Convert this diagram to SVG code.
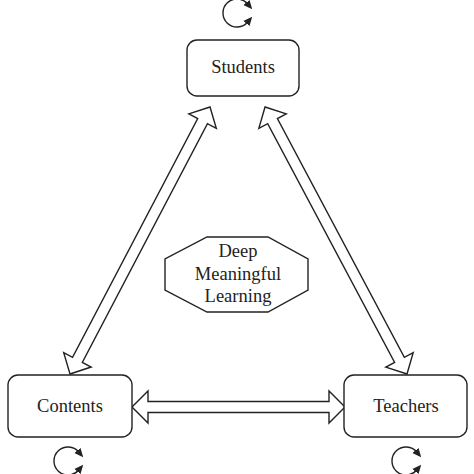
<svg xmlns="http://www.w3.org/2000/svg" width="474" height="474" viewBox="0 0 474 474">
<style>
.box{fill:#fff;stroke:#222;stroke-width:1.4}
.arr{fill:#fff;stroke:#222;stroke-width:1.4;stroke-linejoin:miter}
.loop{fill:none;stroke:#222;stroke-width:1.4}
.lbl{font-family:"Liberation Serif","Times New Roman",serif;font-size:18.5px;fill:#222;text-anchor:middle}
</style>
<defs>
<marker id="ah" markerUnits="userSpaceOnUse" markerWidth="10" markerHeight="10" viewBox="0 0 10 10" refX="2" refY="5" orient="auto-start-reverse">
<path d="M0,1 L9,5 L0,9 Z" fill="#222"/>
</marker>
</defs>
<rect width="474" height="474" fill="#fff"/>
<g id="connectors">
<path class="arr" transform="translate(132,407)" d="M0,0 L16,-16 L16,-5.5 L197,-5.5 L197,-16 L213,0 L197,16 L197,5.5 L16,5.5 L16,16 Z"/>
<path class="arr" transform="translate(70,374) rotate(-62.33)" d="M0,0 L16,-15.5 L16,-5.5 L285.5,-5.5 L285.5,-15.5 L301.5,0 L285.5,15.5 L285.5,5.5 L16,5.5 L16,15.5 Z"/>
<path class="arr" transform="translate(407,374) rotate(-118)" d="M0,0 L16,-15.5 L16,-5.5 L286.4,-5.5 L286.4,-15.5 L302.4,0 L286.4,15.5 L286.4,5.5 L16,5.5 L16,15.5 Z"/>
<path class="loop" d="M247.7,22 A14 14 0 1 1 247.7,4" marker-start="url(#ah)" marker-end="url(#ah)"/>
<path class="loop" d="M78.7,470 A14 14 0 1 1 78.7,452" marker-start="url(#ah)" marker-end="url(#ah)"/>
<path class="loop" d="M416.7,470 A14 14 0 1 1 416.7,452" marker-start="url(#ah)" marker-end="url(#ah)"/>
</g>
<g id="students">
<rect class="box" x="187" y="40" width="112" height="56" rx="10"/>
<text class="lbl" x="243" y="73">Students</text>
</g>
<g id="contents">
<rect class="box" x="8" y="375" width="124" height="62" rx="10"/>
<text class="lbl" x="70" y="412">Contents</text>
</g>
<g id="teachers">
<rect class="box" x="344" y="375" width="123" height="62" rx="10"/>
<text class="lbl" x="406" y="412">Teachers</text>
</g>
<g id="deep-learning">
<polygon class="box" points="207,237 268,237 308,259 308,290 268,312 207,312 165,290 165,259"/>
<text class="lbl" x="238" y="257">Deep</text>
<text class="lbl" x="238" y="280">Meaningful</text>
<text class="lbl" x="238" y="302">Learning</text>
</g>
</svg>
